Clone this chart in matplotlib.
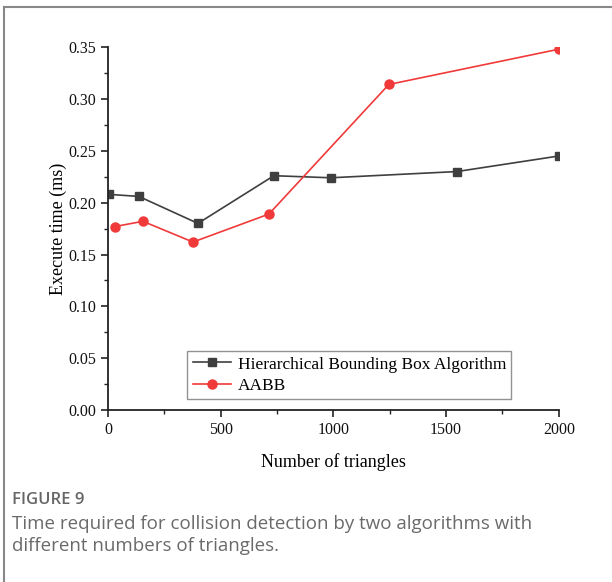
import matplotlib
matplotlib.use("Agg")
import matplotlib.pyplot as plt
from matplotlib.lines import Line2D
from matplotlib.ticker import MultipleLocator

# data
hbb_x = [5, 137, 399, 736, 989, 1548, 2000]
hbb_y = [0.208, 0.206, 0.180, 0.226, 0.224, 0.230, 0.245]
aabb_x = [31, 155, 377, 714, 1246, 2000]
aabb_y = [0.177, 0.182, 0.162, 0.189, 0.314, 0.348]

labels = ["Hierarchical Bounding Box Algorithm", "AABB"]
caption_head = "FIGURE 9"
caption = ("Time required for collision detection by two algorithms with\n"
           "different numbers of triangles.")

serif = "Liberation Serif"

fig = plt.figure(figsize=(6.12, 5.82), dpi=100)
ax = fig.add_axes([0.1765, 0.2955, 0.7365, 0.6235])

ax.plot(hbb_x, hbb_y, color="#3f3f3f", lw=1.2, marker="s", ms=5.5,
        label=labels[0])
ax.plot(aabb_x, aabb_y, color="#f03a3a", lw=1.2, marker="o", ms=6.5,
        label=labels[1])

ax.set_xlim(0, 2000)
ax.set_ylim(0, 0.35)
ax.xaxis.set_major_locator(MultipleLocator(500))
ax.xaxis.set_minor_locator(MultipleLocator(250))
ax.yaxis.set_major_locator(MultipleLocator(0.05))
ax.yaxis.set_minor_locator(MultipleLocator(0.025))
ax.yaxis.set_major_formatter(plt.FuncFormatter(lambda v, p: f"{v:.2f}"))

for s in ["top", "right"]:
    ax.spines[s].set_visible(False)
for s in ["left", "bottom"]:
    ax.spines[s].set_linewidth(1.3)
    ax.spines[s].set_color("#222222")

ax.tick_params(which="major", length=5, width=1.2, color="#222222",
               labelsize=11.5, labelcolor="#111111")
ax.tick_params(which="minor", length=3, width=1.0, color="#222222")
for t in ax.get_xticklabels() + ax.get_yticklabels():
    t.set_fontfamily(serif)

ax.set_xlabel("Number of triangles", fontfamily=serif, fontsize=13,
              labelpad=11)
ax.set_ylabel("Execute time (ms)", fontfamily=serif, fontsize=13,
              labelpad=1)

leg = ax.legend(loc="lower right", bbox_to_anchor=(0.895, 0.03),
                prop={"family": serif, "size": 12.5}, frameon=True,
                fancybox=False, edgecolor="#777777", handlelength=2.2,
                borderpad=0.3, labelspacing=0.3, handletextpad=0.4,
                borderaxespad=0)
leg.get_frame().set_linewidth(1.0)

# caption area
fig.text(12 / 612, 1 - 500 / 582, caption_head, fontfamily="Open Sans",
         fontsize=12, color="#666666", va="center", fontweight="semibold")
fig.text(12 / 612, 1 - 515 / 582, caption, fontfamily="Open Sans",
         fontsize=13.5, color="#6a6a6a", va="top", linespacing=1.3)

# panel frame lines (top and left)
fig.add_artist(Line2D([4 / 612, 1], [1 - 7 / 582] * 2, color="#888888",
                      lw=1.5, transform=fig.transFigure))
fig.add_artist(Line2D([4 / 612] * 2, [0, 1 - 7 / 582], color="#888888",
                      lw=1.5, transform=fig.transFigure))

fig.savefig("out.png", dpi=100)
